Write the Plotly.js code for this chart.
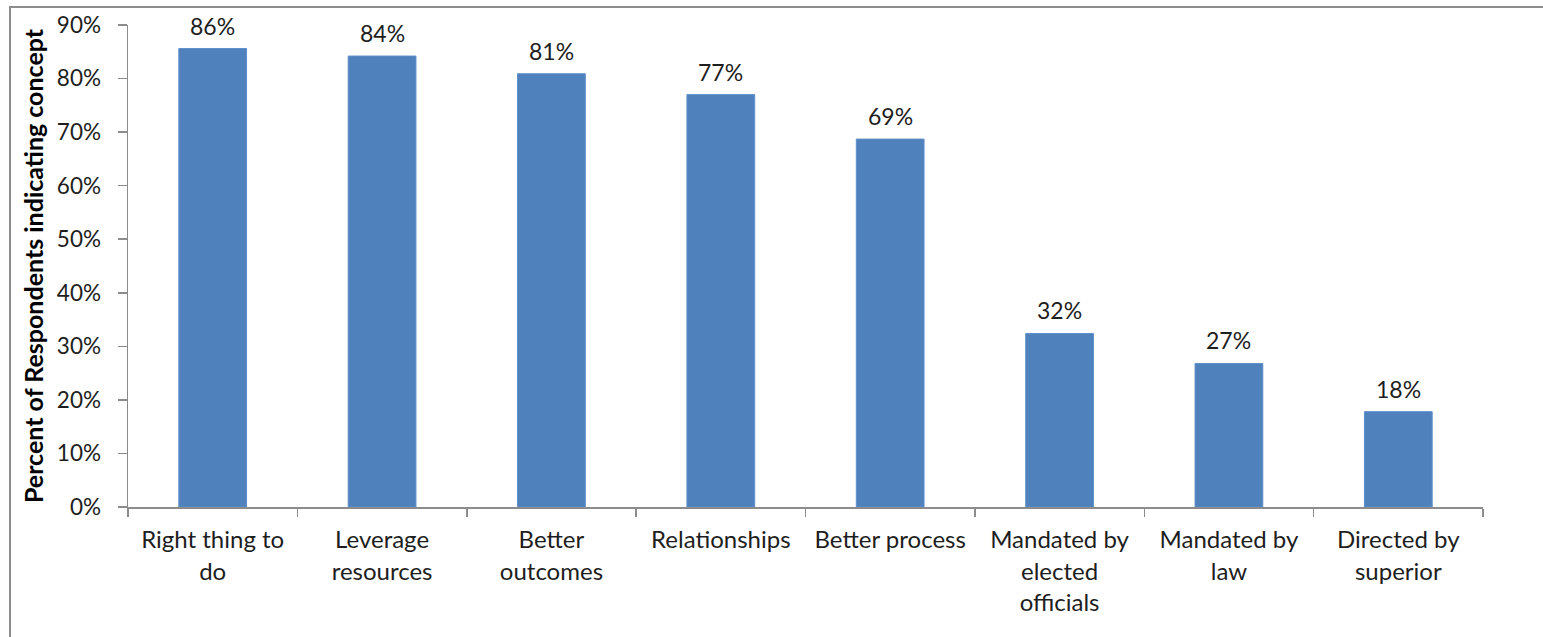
<!DOCTYPE html>
<html>
<head>
<meta charset="utf-8">
<script src="https://cdn.plot.ly/plotly-3.0.1.min.js"></script>
<style>
  html, body { margin: 0; padding: 0; background: #fff; }
  #wrap { position: relative; width: 1543px; height: 637px; overflow: hidden; }
  #chart { position: absolute; left: 0; top: 0; width: 1543px; height: 637px; }
  #frame { position: absolute; left: 9px; top: 6px; width: 1540px; height: 640px;
           border-top: 2px solid #8c8c8c; border-left: 2px solid #8c8c8c; pointer-events: none; }
</style>
</head>
<body>
<div id="wrap">
  <div id="chart"></div>
  <div id="frame"></div>
</div>
<script>
const categories = [
  "Right thing to<br>do",
  "Leverage<br>resources",
  "Better<br>outcomes",
  "Relationships",
  "Better process",
  "Mandated by<br>elected<br>officials",
  "Mandated by<br>law",
  "Directed by<br>superior"
];
const values = [85.6, 84.2, 80.9, 77.0, 68.7, 32.4, 26.8, 17.8];
const valueLabels = ["86%", "84%", "81%", "77%", "69%", "32%", "27%", "18%"];
const yTickValues = [0, 10, 20, 30, 40, 50, 60, 70, 80, 90];
const yTickLabels = ["0%", "10%", "20%", "30%", "40%", "50%", "60%", "70%", "80%", "90%"];

const FONT = "Lato, 'Open Sans', sans-serif";
const TXT = "#1e1e1e";

const trace = {
  type: "bar",
  x: categories,
  y: values,
  marker: { color: "#4F81BD", line: { color: "#5E8FCB", width: 1 } },
  hoverinfo: "none"
};

const annotations = categories.map((c, i) => ({
  x: c, y: values[i], xref: "x", yref: "y",
  text: valueLabels[i], showarrow: false,
  yanchor: "bottom", yshift: 7,
  font: { family: FONT, size: 23, color: TXT }
}));

const layout = {
  width: 1543, height: 637,
  margin: { l: 128, r: 60, t: 25, b: 130 },
  paper_bgcolor: "#ffffff", plot_bgcolor: "#ffffff",
  showlegend: false,
  bargap: 0.6,
  font: { family: FONT, color: TXT },
  xaxis: {
    type: "category",
    showline: true, linecolor: "#8c8c8c", linewidth: 1.5,
    ticks: "outside", tickson: "boundaries", ticklen: 8, tickcolor: "#8c8c8c", tickwidth: 1.5,
    tickfont: { family: FONT, size: 24, color: TXT },
    ticklabelstandoff: 11,
    showgrid: false, zeroline: false, fixedrange: true
  },
  yaxis: {
    range: [0, 90],
    tickvals: yTickValues, ticktext: yTickLabels,
    showline: true, linecolor: "#8c8c8c", linewidth: 1.5,
    ticks: "outside", ticklen: 9, tickcolor: "#8c8c8c", tickwidth: 1.5,
    tickfont: { family: FONT, size: 22.5, color: TXT },
    ticklabelstandoff: 12,
    showgrid: false, zeroline: false, fixedrange: true,
    title: { text: "<b>Percent of Respondents indicating concept</b>",
             font: { family: FONT, size: 25, color: "#000" }, standoff: 6 }
  },
  annotations: annotations
};

Plotly.newPlot("chart", [trace], layout, { displayModeBar: false, staticPlot: true });
</script>
</body>
</html>
